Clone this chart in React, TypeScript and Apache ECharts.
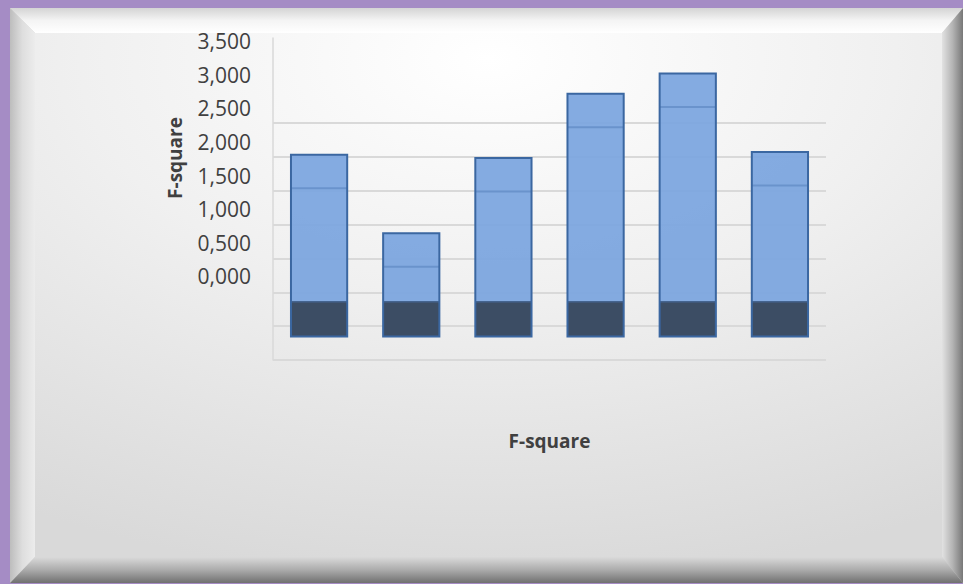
import React, { useEffect, useRef } from "react";
import * as echarts from "echarts";

// ---- data ----
const categories = ["1", "2", "3", "4", "5", "6"];
const fSquare = [1.81, 0.64, 1.76, 2.72, 3.02, 1.85];
const floorTop = -0.38;
const floorBottom = -0.9;
const topDepth = 0.5;
const labelTicks = [0, 0.5, 1, 1.5, 2, 2.5, 3, 3.5];
const axisTitle = "F-square";

const fmt = (v: number) => v.toFixed(3).replace(".", ",");

export default function App() {
  const ref = useRef<HTMLDivElement>(null);
  useEffect(() => {
    document.body.style.margin = "0";
    const chart = echarts.init(ref.current!, null, { renderer: "svg" });
    const L = 10, T = 8, R = 963, B = 583;
    const L2 = 35, T2 = 33, R2 = 942, B2 = 557;
    const lg = (x0: number, y0: number, x1: number, y1: number, c: string[]) =>
      new echarts.graphic.LinearGradient(
        x0, y0, x1, y1,
        c.map((color, i) => ({ offset: i / (c.length - 1), color }))
      );
    const option: any = {
      animation: false,
      backgroundColor: "#a58cc5",
      graphic: [
        { type: "rect", z: -20, shape: { x: L, y: T, width: R - L, height: B - T }, style: { fill: "#cfcfcf" } },
        {
          type: "polygon", z: -19,
          shape: { points: [[L, T], [R, T], [R2, T2], [L2, T2]] },
          style: { fill: lg(0, 0, 0, 1, ["#d4d4d4", "#f4f4f4", "#ffffff"]) },
        },
        {
          type: "polygon", z: -19,
          shape: { points: [[L, T], [L2, T2], [L2, B2], [L, B]] },
          style: { fill: lg(0, 0, 1, 0, ["#bdbdbd", "#dedede", "#ececec"]) },
        },
        {
          type: "polygon", z: -19,
          shape: { points: [[R, T], [R, B], [R2, B2], [R2, T2]] },
          style: { fill: lg(0, 0, 1, 0, ["#e2e2e2", "#b4b4b4", "#787878"]) },
        },
        {
          type: "polygon", z: -19,
          shape: { points: [[L, B], [L2, B2], [R2, B2], [R, B]] },
          style: { fill: lg(0, 0, 0, 1, ["#dadada", "#ababab", "#707070"]) },
        },
        {
          type: "rect", z: -18,
          shape: { x: L2, y: T2, width: R2 - L2, height: B2 - T2 },
          style: {
            fill: new echarts.graphic.RadialGradient(0.5, 0.05, 1.0, [
              { offset: 0, color: "#ffffff" },
              { offset: 0.45, color: "#f0f0f0" },
              { offset: 1, color: "#d9d9d9" },
            ]),
          },
        },
        {
          type: "text", z: 10, x: 175, y: 158, rotation: Math.PI / 2,
          style: {
            text: axisTitle, align: "center", verticalAlign: "middle",
            fontFamily: "Open Sans", fontWeight: "bold", fontSize: 19, fill: "#404040",
          },
        },
      ],
      grid: [
        { left: 273, right: 137, top: 38, bottom: 224 },
        { left: 273, right: 137, top: 123, bottom: 224 },
      ],
      xAxis: [
        { type: "category", gridIndex: 0, data: categories, show: false },
        {
          type: "category", gridIndex: 1, data: categories,
          axisLine: { show: false }, axisTick: { show: false }, axisLabel: { show: false },
          name: axisTitle, nameLocation: "middle", nameGap: 71,
          nameTextStyle: { fontFamily: "Open Sans", fontWeight: "bold", fontSize: 19, color: "#404040" },
        },
      ],
      yAxis: [
        {
          type: "value", gridIndex: 0, min: -1.25, max: 3.55, interval: 0.25,
          axisLine: { show: true, lineStyle: { color: "#d9d9d9", width: 1.5 } },
          axisTick: { show: false },
          splitLine: { show: false },
          axisLabel: {
            margin: 22, fontFamily: "Open Sans", fontSize: 21, color: "#404040",
            showMinLabel: true, showMaxLabel: true,
            formatter: (v: number) => {
              const hit = labelTicks.find((t) => Math.abs(t - v) < 1e-6);
              return hit === undefined ? "" : fmt(hit);
            },
          },
        },
        {
          type: "value", gridIndex: 1, min: 0, max: 3.5, interval: 0.5,
          axisLine: { show: false }, axisTick: { show: false }, axisLabel: { show: false },
          splitLine: { show: true, lineStyle: { color: "#d9d9d9", width: 2 } },
        },
      ],
      series: [
        {
          type: "custom", xAxisIndex: 0, yAxisIndex: 0, z: 5,
          data: fSquare.map((v, i) => [i, v]),
          encode: { x: 0, y: 1 },
          renderItem: (params: any, api: any) => {
            const i = api.value(0);
            const v = api.value(1);
            const top = api.coord([i, v]);
            const mid = api.coord([i, floorTop]);
            const bot = api.coord([i, floorBottom]);
            const inner = api.coord([i, v - topDepth]);
            const bw = api.size([1, 0])[0] * 0.61;
            const x = top[0] - bw / 2;
            return {
              type: "group",
              children: [
                { type: "rect", shape: { x, y: top[1], width: bw, height: mid[1] - top[1] }, style: { fill: "#7ba5df", opacity: 0.93 } },
                { type: "rect", shape: { x, y: mid[1], width: bw, height: bot[1] - mid[1] }, style: { fill: "#3c4d64" } },
                { type: "line", shape: { x1: x, y1: inner[1], x2: x + bw, y2: inner[1] }, style: { stroke: "#6a93cc", lineWidth: 2 } },
                { type: "line", shape: { x1: x, y1: mid[1], x2: x + bw, y2: mid[1] }, style: { stroke: "#45648f", lineWidth: 1.5 } },
                { type: "rect", shape: { x, y: top[1], width: bw, height: bot[1] - top[1] }, style: { fill: "none", stroke: "#3b67a1", lineWidth: 2 } },
              ],
            };
          },
        },
      ],
    };
    chart.setOption(option);
    return () => chart.dispose();
  }, []);
  return <div ref={ref} style={{ width: 963, height: 584 }} />;
}
